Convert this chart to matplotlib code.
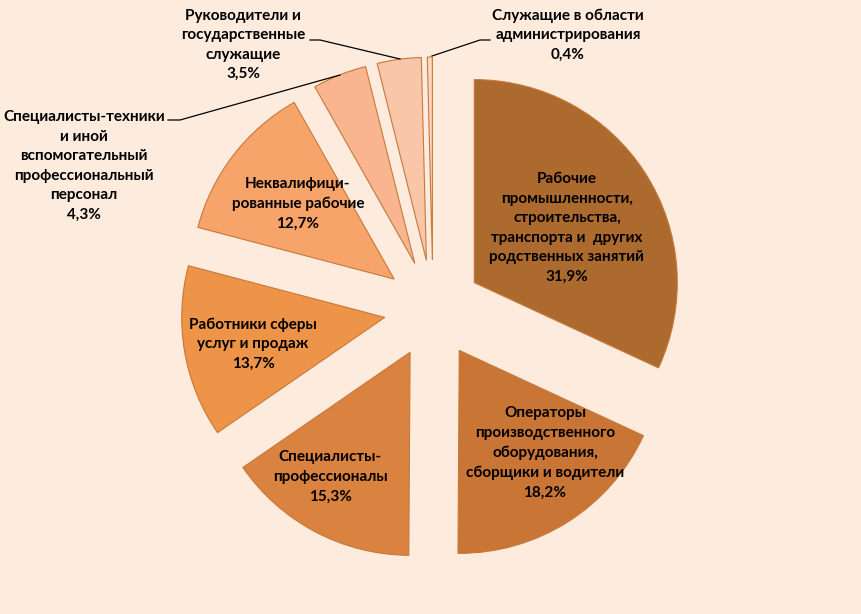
import matplotlib
matplotlib.use("Agg")
import matplotlib.pyplot as plt

# shares of employed by occupation group, %
labels = [
    "Рабочие\nпромышленности,\nстроительства,\nтранспорта и  других\nродственных занятий",
    "Операторы\nпроизводственного\nоборудования,\nсборщики и водители",
    "Специалисты-\nпрофессионалы",
    "Работники сферы\nуслуг и продаж",
    "Неквалифици-\nрованные рабочие",
    "Специалисты-техники\nи иной\nвспомогательный\nпрофессиональный\nперсонал",
    "Руководители и\nгосударственные\nслужащие",
    "Служащие в области\nадминистрирования",
]
values = [31.9, 18.2, 15.3, 13.7, 12.7, 4.3, 3.5, 0.4]
colors = ["#AD6A2F", "#C87535", "#DA823F", "#EE9448",
          "#F7A46B", "#F8B58F", "#FAC6A9", "#FCD7C2"]

BG = "#FDEBDD"
W, H = 862, 614

plt.rcParams["font.family"] = ["Lato", "DejaVu Sans"]

fig = plt.figure(figsize=(W / 100, H / 100), dpi=100, facecolor=BG)
ax = fig.add_axes([0, 0, 1, 1])
ax.set_facecolor(BG)

radius = 203
offset = 49  # explode distance, same units as radius
wedges, _ = ax.pie(
    values,
    explode=[offset] * len(values),
    colors=colors,
    startangle=90,
    counterclock=False,
    radius=radius,
    center=(433, H - 309),
    wedgeprops=dict(edgecolor="#C8783A", linewidth=0.8),
    frame=True,
)
ax.set_xlim(0, W)
ax.set_ylim(0, H)
ax.set_aspect("equal")
ax.axis("off")


def pct(v):
    return f"{v:.1f}%".replace(".", ",")


# label centres in pixel coords (x, y from top)
inside_pos = [(567, 228), (545, 453), (330, 477), (253, 344), (298, 204)]
outside_pos = [(84, 166), (243, 45), (568, 35)]

txt_kw = dict(ha="center", va="center", fontsize=11, fontweight="bold",
              color="black", linespacing=1.5)

for i, (x, y) in enumerate(inside_pos):
    ax.text(x, H - y, labels[i] + "\n" + pct(values[i]), **txt_kw)

for j, (x, y) in enumerate(outside_pos):
    i = j + 5
    ax.text(x, H - y, labels[i] + "\n" + pct(values[i]), **txt_kw)

# leader lines (pixel coords)
leaders = [
    [(168, 120), (180, 120), (340, 75)],
    [(310, 40), (320, 40), (400, 59)],
    [(490, 40), (480, 40), (432, 56)],
]
for pts in leaders:
    xs = [p[0] for p in pts]
    ys = [H - p[1] for p in pts]
    ax.plot(xs, ys, color="black", linewidth=0.9)

fig.savefig("out.png", dpi=100, facecolor=BG)
